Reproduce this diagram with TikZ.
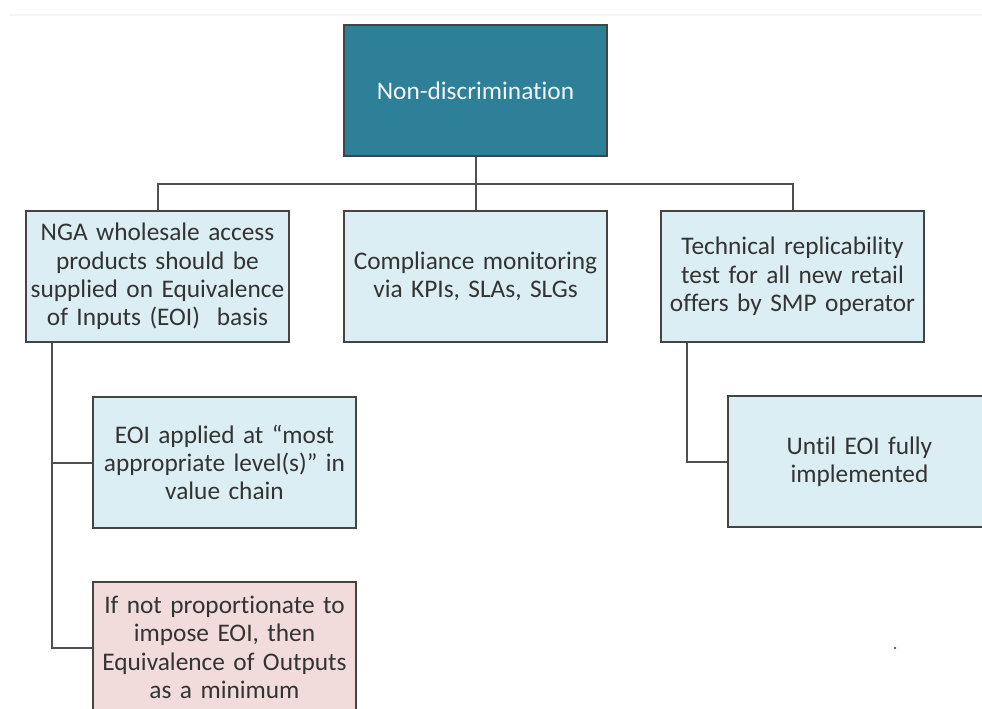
\documentclass[tikz,border=0pt]{standalone}
\usepackage{fontspec}
\setmainfont{Carlito}[Ligatures=NoCommon]
\definecolor{teal}{HTML}{2E7F98}
\definecolor{paleblue}{HTML}{DBEEF4}
\definecolor{palepink}{HTML}{F2DCDB}
\definecolor{edge}{HTML}{444444}
\definecolor{wire}{HTML}{505050}
\begin{document}
\begin{tikzpicture}[x=0.75pt,y=-0.75pt,
  box/.style={draw=edge,line width=1.5pt,anchor=north west,
    minimum width=263*0.75pt,minimum height=131*0.75pt,
    inner sep=0pt,align=center,text width=258*0.75pt,
    font=\fontsize{19pt}{21.2pt}\selectfont,text=black!80},
  bluebox/.style={box,fill=paleblue},
  pinkbox/.style={box,fill=palepink},
  headbox/.style={box,fill=teal,text=white!94!teal},
  wire/.style={draw=wire,line width=1.5pt}]
\useasboundingbox (0,0) rectangle (982,709);
\clip (0,0) rectangle (982,709);
\fill[white] (0,0) rectangle (982,709);
% faint rule along the top
\draw[black!4,line width=2pt] (9,15) -- (982,15);

% boxes
\node[headbox] (root) at (343,24) {Non-discrimination};
\node[bluebox] (nga) at (25,210) {NGA wholesale access\\products should be\\supplied on Equivalence\\of Inputs (EOI)~~basis};
\node[bluebox] (kpi) at (343,210) {Compliance monitoring\\via KPIs, SLAs, SLGs};
\node[bluebox] (rep) at (660,210) {Technical replicability\\test for all new retail\\offers by SMP operator};
\node[bluebox] (eoi) at (92,396) {EOI applied at ``most\\appropriate level(s)'' in\\value chain};
\node[pinkbox] (eoo) at (92,581) {If not proportionate to\\impose EOI, then\\Equivalence of Outputs\\as a minimum};
\node[bluebox] (until) at (727,395) {Until EOI fully\\implemented};

% tree connectors
\path (root.south) ++(0,27) coordinate (bus);
\draw[wire] (root.south) -- (kpi.north);
\draw[wire] (nga.north) |- (bus) -| (rep.north);
\draw[wire] (nga.south west) ++(27,0) coordinate (ltrunk) |- (eoi.west);
\draw[wire] (ltrunk) |- (eoo.west);
\draw[wire] (rep.south west) ++(27,0) |- (until.west);

% small mark near the bottom right
\fill[black!60] (895,648) circle (1.3);
\end{tikzpicture}
\end{document}
